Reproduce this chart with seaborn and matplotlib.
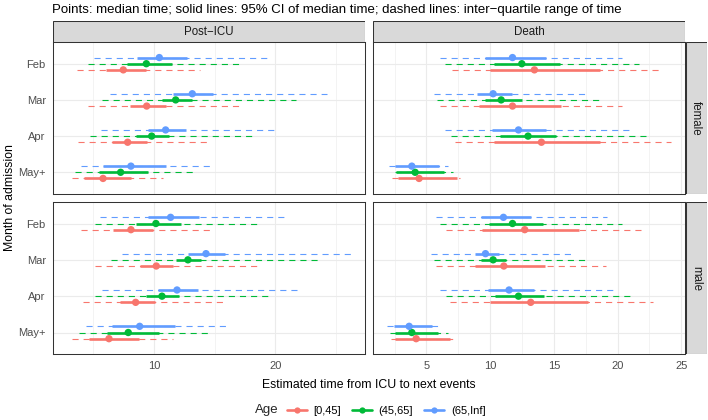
import numpy as np
import pandas as pd
import matplotlib
matplotlib.use("Agg")
import matplotlib.pyplot as plt
import seaborn as sns
from matplotlib.lines import Line2D
from matplotlib.patches import Rectangle
from matplotlib.ticker import MultipleLocator

# Data; rows = months, columns = age groups
months = ["Feb", "Mar", "Apr", "May+"]
ages = ["[0,45]", "(45,65]", "(65,Inf]"]
events = ["Post\u2212ICU", "Death"]
sexes = ["female", "male"]

# female, Post-ICU
f_post_med = [[7.47, 9.37, 10.44], [9.40, 11.79, 13.16], [7.83, 9.81, 10.96], [5.80, 7.25, 8.10]]
f_post_cilo = [[6.02, 7.75, 8.63], [8.02, 10.63, 11.59], [6.57, 8.52, 9.53], [4.23, 5.49, 5.82]]
f_post_cihi = [[9.31, 11.51, 12.69], [10.99, 13.10, 14.89], [9.40, 11.21, 12.61], [8.10, 9.53, 10.99]]
f_post_q1 = [[3.63, 4.53, 5.08], [4.59, 5.71, 6.37], [3.76, 4.73, 5.66], [3.27, 3.49, 3.98]]
f_post_q3 = [[13.79, 17.23, 19.29], [17.31, 21.70, 24.23], [14.40, 18.08, 20.16], [10.71, 13.46, 14.95]]

# male, Post-ICU
m_post_med = [[8.10, 10.16, 11.37], [10.19, 12.80, 14.29], [8.49, 10.66, 11.90], [6.29, 7.88, 8.82]]
m_post_cilo = [[6.59, 8.49, 9.48], [8.85, 11.81, 12.83], [7.20, 9.34, 10.36], [4.64, 6.10, 6.51]]
m_post_cihi = [[9.95, 12.23, 13.74], [11.59, 13.87, 15.88], [10.08, 12.09, 13.65], [8.76, 10.41, 11.73]]
m_post_q1 = [[3.96, 5.14, 5.55], [5.16, 6.43, 7.34], [4.12, 5.14, 5.74], [3.27, 3.85, 4.40]]
m_post_q3 = [[14.95, 18.74, 20.93], [18.79, 23.57, 26.29], [15.66, 19.64, 21.95], [11.59, 14.62, 16.26]]

# female, Death
f_death_med = [[13.47, 12.48, 11.75], [11.75, 10.86, 10.23], [14.02, 12.97, 12.22], [4.42, 4.11, 3.85]]
f_death_cilo = [[10.02, 10.31, 9.63], [9.10, 9.63, 8.97], [10.31, 10.75, 10.15], [2.78, 2.59, 2.52]]
f_death_cihi = [[18.65, 15.46, 14.41], [15.54, 12.50, 11.75], [18.59, 15.20, 14.36], [7.41, 6.36, 5.99]]
f_death_q1 = [[7.04, 6.44, 6.05], [6.05, 5.86, 5.60], [7.22, 6.96, 6.44], [2.31, 2.52, 2.07]]
f_death_q3 = [[23.35, 21.68, 20.35], [20.35, 18.86, 17.73], [24.22, 22.44, 21.08], [7.61, 7.09, 6.65]]

# male, Death
m_death_med = [[12.71, 11.75, 11.04], [11.07, 10.23, 9.63], [13.18, 12.22, 11.48], [4.19, 3.85, 3.64]]
m_death_cilo = [[9.39, 9.89, 9.26], [8.79, 9.31, 8.79], [9.97, 10.36, 9.84], [2.52, 2.52, 2.44]]
m_death_cihi = [[16.97, 14.15, 13.24], [14.28, 11.27, 10.70], [17.68, 14.23, 13.42], [6.83, 5.92, 5.47]]
m_death_q1 = [[6.57, 6.10, 5.73], [5.73, 5.60, 5.39], [6.83, 6.52, 6.05], [2.18, 2.12, 1.92]]
m_death_q3 = [[22.05, 20.35, 19.17], [19.12, 17.73, 16.69], [22.78, 21.08, 19.90], [7.22, 6.65, 6.25]]

panels = {
    ("female", 0): (f_post_med, f_post_cilo, f_post_cihi, f_post_q1, f_post_q3),
    ("female", 1): (f_death_med, f_death_cilo, f_death_cihi, f_death_q1, f_death_q3),
    ("male", 0): (m_post_med, m_post_cilo, m_post_cihi, m_post_q1, m_post_q3),
    ("male", 1): (m_death_med, m_death_cilo, m_death_cihi, m_death_q1, m_death_q3),
}

palette = dict(zip(ages, ["#F8766D", "#00BA38", "#619CFF"]))
dodge = {"[0,45]": 0.17, "(45,65]": 0.0, "(65,Inf]": -0.17}

rows = []
for (sex, ev), (med, lo, hi, q1, q3) in panels.items():
    for i, m in enumerate(months):
        for j, a in enumerate(ages):
            rows.append(dict(sex=sex, event=events[ev], month=m, age=a,
                             med=med[i][j], ci_lo=lo[i][j], ci_hi=hi[i][j],
                             q1=q1[i][j], q3=q3[i][j], ypos=i + dodge[a]))
df = pd.DataFrame(rows)

sns.set_theme(style="white")
plt.rcParams["font.family"] = ["Liberation Sans", "DejaVu Sans"]

W, H = 708, 420
fig = plt.figure(figsize=(W / 100, H / 100), dpi=100)


def px_axes(x0, y0, x1, y1):
    return fig.add_axes([x0 / W, 1 - y1 / H, (x1 - x0) / W, (y1 - y0) / H])


col_x = [(52.7, 365.0), (372.7, 685.3)]
row_y = [(42.0, 194.0), (201.7, 354.3)]
xlims = [(1.65, 27.4), (0.78, 25.31)]
strip_kw = dict(facecolor="#D9D9D9", edgecolor="#333333", linewidth=0.75)

for r, sex in enumerate(sexes):
    for c, ev in enumerate(events):
        (x0, x1), (y0, y1) = col_x[c], row_y[r]
        ax = px_axes(x0, y0, x1, y1)
        sub = df[(df.sex == sex) & (df.event == ev)]
        cols = sub.age.map(palette)
        ax.hlines(sub.ypos, sub.q1, sub.q3, colors=cols, linewidth=0.8,
                  linestyles=(0, (5.5, 4.5)), zorder=2)
        ax.hlines(sub.ypos, sub.ci_lo, sub.ci_hi, colors=cols, linewidth=1.9,
                  zorder=3)
        sns.scatterplot(data=sub, x="med", y="ypos", hue="age", palette=palette,
                        hue_order=ages, s=28, linewidth=0, legend=False,
                        ax=ax, zorder=4)
        ax.set_xlim(*xlims[c])
        ax.set_ylim(3.6, -0.6)
        if c == 0:
            ax.xaxis.set_major_locator(MultipleLocator(10))
            ax.xaxis.set_minor_locator(MultipleLocator(5))
        else:
            ax.xaxis.set_major_locator(MultipleLocator(5))
            ax.xaxis.set_minor_locator(MultipleLocator(2.5))
        ax.set_yticks(range(len(months)))
        ax.set_facecolor("white")
        ax.grid(which="major", color="#EBEBEB", linewidth=0.8, zorder=0)
        ax.grid(which="minor", axis="x", color="#EBEBEB", linewidth=0.4, zorder=0)
        ax.set_axisbelow(True)
        for s in ax.spines.values():
            s.set_color("#333333")
            s.set_linewidth(0.75)
        ax.tick_params(axis="both", which="major", length=3, width=0.7,
                       color="#333333", labelsize=8, labelcolor="#4D4D4D", pad=2)
        ax.tick_params(axis="x", which="minor", length=0)
        ax.set_xlabel("")
        ax.set_ylabel("")
        if c == 0:
            ax.set_yticklabels(months)
        else:
            ax.tick_params(axis="y", labelleft=False, length=3)
        if r == 0:
            ax.tick_params(axis="x", labelbottom=False)

        # top strips
        if r == 0:
            sax = px_axes(x0, 21.0, x1, 42.0)
            sax.add_patch(Rectangle((0, 0), 1, 1, transform=sax.transAxes, **strip_kw))
            sax.text(0.5, 0.48, ev, ha="center", va="center", fontsize=8.3,
                     color="#1A1A1A", transform=sax.transAxes)
            sax.axis("off")
        # right strips
        if c == 1:
            sax = px_axes(686.0, y0, 706.5, y1)
            sax.add_patch(Rectangle((0, 0), 1, 1, transform=sax.transAxes, **strip_kw))
            sax.text(0.5, 0.5, sex, ha="center", va="center", rotation=-90,
                     fontsize=8.3, color="#1A1A1A", transform=sax.transAxes)
            sax.axis("off")

fig.text(52 / W, 1 - 10 / H, "Points: median time; solid lines: 95% CI of median time; "
         "dashed lines: inter\u2212quartile range of time",
         ha="left", va="center", fontsize=9.5, color="black")
fig.text(369 / W, 1 - 385 / H, "Estimated time from ICU to next events",
         ha="center", va="center", fontsize=8.8, color="black")
fig.text(10 / W, 1 - 198 / H, "Month of admission", ha="center", va="center",
         rotation=90, fontsize=8.8, color="black")

fig.text(255 / W, 1 - 410.5 / H, "Age", ha="left", va="center", fontsize=9.5)
handles = [Line2D([], [], color=palette[a], linewidth=1.9, marker="o",
                  markersize=4.5, markeredgewidth=0) for a in ages]
fig.legend(handles, ages, ncol=3, loc="center", bbox_to_anchor=(386 / W, 1 - 410.5 / H),
           frameon=False, fontsize=8, handlelength=1.8, handletextpad=0.6,
           columnspacing=1.0, borderpad=0, labelcolor="black")

fig.savefig("out.png", dpi=100)
